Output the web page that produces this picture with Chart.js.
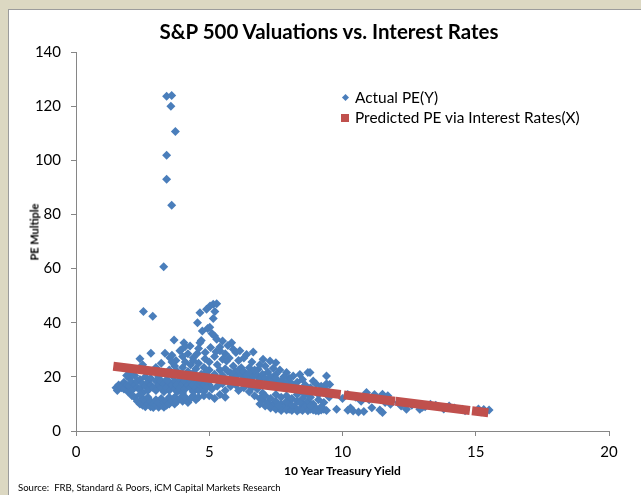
<!DOCTYPE html>
<html><head><meta charset="utf-8">
<script src="https://cdn.jsdelivr.net/npm/chart.js@4/dist/chart.umd.min.js"></script>
<style>
html,body{margin:0;padding:0;}
body{width:641px;height:495px;background:#dcd8c2;position:relative;overflow:hidden;font-family:Lato,'Open Sans',sans-serif;}
#panel{position:absolute;left:8px;top:9px;width:633px;height:486px;background:#fff;border-top:1px solid #9c9c9c;border-left:1px solid #9c9c9c;box-sizing:border-box;}
#wrap{position:absolute;left:0;top:0;width:641px;height:495px;}
.t{position:absolute;white-space:nowrap;color:#000;line-height:1;}
#title{left:0;width:658px;text-align:center;top:21px;font-size:20.5px;font-weight:bold;}
#xt{left:76px;width:533px;text-align:center;top:465px;font-size:12px;font-weight:bold;}
#yt{left:34px;top:232px;font-size:11px;font-weight:bold;transform:translate(-50%,-50%) rotate(-90deg);}
#src{left:18px;top:483px;font-size:9.6px;}
.leg{font-size:15.4px;left:355px;}
#dia{position:absolute;left:343px;top:95px;width:5px;height:5px;background:#4a7ebb;transform:rotate(45deg);}
#sq{position:absolute;left:341px;top:114px;width:8px;height:8px;background:#c0504d;}
</style></head><body>
<div id="panel"></div>
<div id="wrap"><canvas id="c" width="641" height="495"></canvas></div>
<div class="t" id="title">S&amp;P 500 Valuations vs. Interest Rates</div>
<div class="t" id="xt">10 Year Treasury Yield</div>
<div class="t" id="yt">PE Multiple</div>
<div class="t" id="src">Source:&nbsp; FRB, Standard &amp; Poors, iCM Capital Markets Research</div>
<div id="dia"></div>
<div class="t leg" style="top:90px">Actual PE(Y)</div>
<div id="sq"></div>
<div class="t leg" style="top:110px">Predicted PE via Interest Rates(X)</div>
<script>
// ---- data ----
const xTicks = [0, 5, 10, 15, 20];
const yTicks = [0, 20, 40, 60, 80, 100, 120, 140];

// Actual PE (Y) vs 10 year treasury yield (X): [yield, PE]
const actualPoints = [
 // extreme outliers
 [3.29,60.7],[3.40,93.0],[3.40,101.9],[3.59,83.4],[3.56,120.0],[3.40,123.7],[3.59,123.9],[3.73,110.6],
 // high cluster
 [2.53,44.1],[2.88,42.4],[4.56,40.0],[4.65,43.7],[4.90,45.0],[5.03,46.2],[5.15,46.8],[5.28,47.0],[5.21,44.1],[5.15,41.6],
 [4.94,37.9],[4.74,36.9],[5.02,38.3],[5.10,36.0],[5.20,35.1],[5.28,33.9],[5.50,33.2],[5.84,32.6],[5.70,31.6],[5.40,31.0],
 // upper middle
 [3.68,33.6],[4.05,32.6],[4.28,31.4],[4.65,32.6],[4.70,33.4],[4.10,31.2],[3.95,30.0],[3.90,29.6],[3.34,28.7],[3.52,27.1],
 [2.81,28.7],[2.40,26.7],[3.60,28.0],[3.75,26.0],[4.00,27.5],[4.20,28.5],[4.40,27.1],[4.55,28.6],[4.84,26.7],[4.60,30.5],
 [4.85,29.0],[5.05,30.8],[5.25,29.3],[5.40,29.6],[5.60,28.5],[5.90,30.2],[6.00,29.0],[6.15,29.6],[6.40,28.3],[6.65,29.2],
 [6.30,27.0],[6.10,26.0],[5.75,27.0],[5.50,26.5],[5.20,27.5],[5.00,25.5],[5.30,24.5],[5.65,25.9],[5.90,24.0],[6.20,23.4],
 [6.50,23.4],[6.84,22.8],[7.02,26.5],[7.28,25.9],[7.50,25.2],[7.10,24.0],[6.90,24.5],[6.60,25.5],[7.40,23.2],[7.65,22.5],
 [7.90,21.6],[8.15,20.3],[8.40,20.9],[8.70,21.6],[8.78,21.6],[9.40,20.3],[9.52,17.2],[8.00,19.5],[8.50,19.0],[8.90,18.5],
 [7.80,20.0],[7.50,21.0],[7.20,21.8],[6.70,21.0],[6.00,22.0],[5.80,21.5],
 // middle around the fitted line
 [5.00,22.5],[5.20,21.0],[5.40,22.5],[5.50,20.5],[5.60,23.0],[5.70,22.0],[5.80,19.5],[5.90,21.0],[6.00,20.0],[6.10,22.5],
 [6.20,21.0],[6.30,19.5],[6.30,22.0],[6.40,20.5],[6.50,21.5],[6.60,19.5],[6.70,22.5],[6.80,20.5],[6.90,19.0],[7.00,21.0],
 [7.10,19.5],[7.20,18.0],[7.30,20.0],[7.40,18.5],[7.50,19.5],[7.60,17.5],[7.70,18.5],[7.80,17.0],[7.90,18.0],[8.10,17.5],
 [8.30,18.0],[8.20,16.5],[8.60,17.0],[8.80,16.0],[9.00,17.5],[9.20,16.5],[9.35,15.5],[9.40,17.5],
 [5.00,17.0],[5.10,15.5],[5.30,16.5],[5.50,17.5],[5.60,15.0],[5.80,16.5],[6.00,17.0],[6.10,15.0],[6.30,16.0],[6.40,17.5],
 [6.50,14.5],[6.60,16.0],[6.70,13.0],[6.80,15.5],[6.90,12.0],[7.00,14.0],
 // lower right of the middle
 [7.00,11.5],[7.10,13.0],[7.20,10.5],[7.30,12.0],[7.40,9.5],[7.50,11.0],[7.50,13.5],[7.60,8.5],[7.70,10.0],[7.70,12.5],
 [7.80,9.0],[7.90,11.0],[7.90,13.0],[8.00,8.0],[8.00,10.0],[8.10,12.0],[8.20,9.0],[8.30,11.0],[8.30,13.5],[8.40,8.0],
 [8.50,10.0],[8.50,12.0],[8.60,9.0],[8.70,11.0],[8.80,8.0],[8.80,12.5],[8.90,10.0],[9.00,7.5],[9.00,8.5],[9.10,11.5],
 [9.20,7.8],[9.30,8.0],[9.40,7.6],[9.30,10.5],[9.50,12.5],[9.10,13.5],[8.60,13.5],[9.78,8.0],[7.30,8.5],[7.10,9.2],[6.90,10.0],
 [7.50,8.0],[7.70,7.6],[7.90,7.8],[8.10,7.6],[8.30,7.4],[8.50,7.6],[8.70,7.5],[8.90,7.8],[9.10,7.4],[7.60,9.5],
 [8.10,9.5],[8.40,10.5],[8.80,9.5],[9.20,9.0],
 // high yields
 [10.20,7.7],[10.40,7.4],[10.60,7.0],[10.80,7.2],[10.30,8.5],[10.00,12.0],[10.20,13.5],[10.50,12.5],[10.90,14.2],[11.20,13.5],
 [11.50,13.6],[11.70,13.0],[11.10,8.6],[11.50,6.8],[11.40,7.8],[11.80,11.1],[11.80,9.9],[11.60,10.5],[11.00,11.5],[12.10,10.5],
 [12.40,8.0],[12.60,9.5],[12.90,8.0],[13.10,9.0],[13.30,9.9],[13.50,9.5],[13.80,8.1],[14.00,9.2],[14.20,8.5],[14.50,8.0],
 [14.60,7.5],[15.10,8.1],[15.30,7.9],[15.50,7.8],[15.20,7.0],[13.00,8.8],[12.20,9.2],[10.70,11.0],
 // low yields, dense left band
 [1.50,16.0],[1.55,15.0],[1.60,17.0],[1.70,16.0],[1.80,15.5],[1.80,18.0],[1.90,17.0],[1.95,14.5],[2.00,16.5],[2.00,19.5],
 [2.10,18.0],[2.10,15.0],[2.20,17.0],[2.20,20.5],[2.30,16.0],[2.30,18.5],[2.40,19.0],[2.40,15.5],[2.50,17.5],[2.50,14.0],
 [2.60,16.5],[2.60,20.0],[2.70,18.0],[2.70,15.0],[2.80,17.0],[2.80,19.5],[2.90,16.0],[3.00,18.5],[3.00,15.0],[3.10,17.0],
 [3.10,20.0],[3.20,16.0],[3.20,18.5],[3.30,14.5],[3.30,17.5],[3.40,19.0],[3.40,16.0],[3.50,18.0],[3.50,15.0],[3.60,17.0],
 [3.60,20.5],[3.70,15.5],[3.70,18.5],[3.80,17.0],[3.80,14.5],[3.90,19.0],[3.90,16.0],[4.00,17.5],[4.00,14.0],[4.10,18.5],
 [4.10,15.5],[4.20,17.0],[4.20,20.0],[4.30,16.0],[4.30,18.5],[4.40,17.0],[4.40,14.5],[4.50,19.0],[4.50,16.0],[4.60,17.5],
 [4.60,15.0],[4.70,18.0],[4.70,16.5],[4.80,17.0],[4.80,14.5],[4.90,16.0],[4.90,18.5],[2.00,21.0],[2.20,22.5],[1.90,20.5],
 [2.50,24.5],[3.00,23.5],[3.20,25.0],[3.50,22.5],[3.70,24.0],[3.80,22.0],[4.00,23.5],[4.10,25.5],[4.20,22.0],[4.30,24.5],
 [4.40,21.5],[4.50,23.0],[4.60,25.0],[4.70,21.0],[4.80,23.5],[4.90,22.0],[4.40,26.0],[3.60,25.5],
 // low yields, low PE bowl
 [2.20,12.5],[2.30,11.0],[2.40,10.0],[2.50,12.0],[2.50,9.5],[2.60,11.0],[2.60,9.0],[2.70,10.0],[2.70,12.5],[2.80,9.0],
 [2.80,11.0],[2.90,10.0],[2.90,8.7],[3.00,9.5],[3.00,11.5],[3.10,8.8],[3.10,10.5],[3.20,9.5],[3.20,12.0],[3.30,10.5],
 [3.30,8.8],[3.40,11.0],[3.40,9.5],[3.50,10.0],[3.50,12.5],[3.60,11.0],[3.70,10.0],[3.70,12.5],[3.80,11.0],[3.90,12.0],
 [4.00,11.0],[4.10,12.5],[4.20,10.5],[4.30,12.0],[2.40,13.5],[2.10,13.0],
 [4.40,13.0],[4.60,12.5],[4.80,13.0],[4.50,11.5],[5.00,13.0],[5.20,12.0],[5.40,13.5],[5.60,12.5]
];

// Predicted PE via interest rates (X): fitted band, breaks where the reference shows gaps
const predX = [1.40, 9.93, 9.99, 10.05, 11.97, 11.98, 11.99, 14.78, 14.82, 14.86, 15.47];
const predY = [23.9, 13.5, null, 13.35, 11.0, null, 10.97, 7.55, null, 7.45, 6.75];

const blue = '#4a7ebb', red = '#c0504d', axisGray = '#868686';
Chart.defaults.font.family = "Lato, 'Open Sans', sans-serif";
Chart.defaults.color = '#000';

new Chart(document.getElementById('c'), {
  type: 'scatter',
  data: {
    datasets: [
      { label: 'Actual PE(Y)', order: 2,
        data: actualPoints.map(p => ({x: p[0], y: p[1]})),
        pointStyle: 'rectRot', pointRadius: 4.5, pointBorderWidth: 0,
        backgroundColor: blue, borderColor: blue, showLine: false },
      { label: 'Predicted PE via Interest Rates(X)', order: 1,
        data: predX.map((x, i) => ({x: x, y: predY[i]})),
        showLine: true, spanGaps: false, pointRadius: 0, borderWidth: 9,
        borderColor: red, backgroundColor: red, borderCapStyle: 'butt' }
    ]
  },
  options: {
    responsive: false, animation: false, events: [],
    layout: { padding: { left: 0, top: 52, right: 32, bottom: 0 } },
    plugins: { legend: { display: false }, title: { display: false }, tooltip: { enabled: false } },
    scales: {
      x: { type: 'linear', min: xTicks[0], max: xTicks[xTicks.length - 1],
        afterBuildTicks: s => { s.ticks = xTicks.map(v => ({value: v})); },
        afterFit: s => { s.height = 64; },
        ticks: { font: { size: 15 }, padding: 7, maxRotation: 0 },
        grid: { display: true, drawOnChartArea: false, drawTicks: true, tickLength: 5, color: axisGray },
        border: { display: true, color: axisGray, width: 1 } },
      y: { min: yTicks[0], max: yTicks[yTicks.length - 1],
        afterBuildTicks: s => { s.ticks = yTicks.map(v => ({value: v})); },
        afterFit: s => { s.width = 76; },
        ticks: { font: { size: 15 }, padding: 10 },
        grid: { display: true, drawOnChartArea: false, drawTicks: true, tickLength: 5, color: axisGray },
        border: { display: true, color: axisGray, width: 1 } }
    }
  }
});
</script>
</body></html>
